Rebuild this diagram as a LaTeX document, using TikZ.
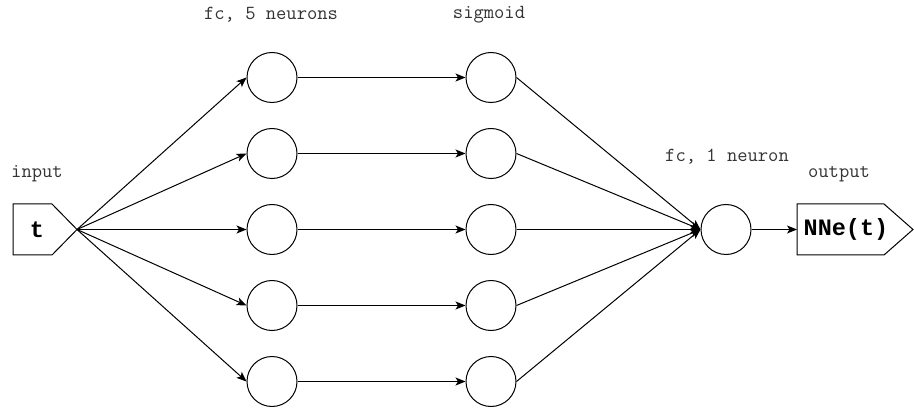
\documentclass[tikz,border=0pt]{standalone}
\usepackage{fontspec}
\newfontfamily\boldmono{Liberation Mono}
\usetikzlibrary{arrows.meta}
\begin{document}
\begin{tikzpicture}[x=1pt,y=-1pt,
  neuron/.style={circle,draw,line width=1pt,minimum size=50pt,inner sep=0pt},
  shp/.style={draw,line width=1pt,line join=miter},
  conn/.style={line width=1pt,-{Stealth[length=10pt,width=8pt,inset=2.5pt]}},
  lbl/.style={font=\ttfamily\fontsize{20}{20}\selectfont,inner sep=0pt,text=black!80},
  big/.style={font=\boldmono\bfseries\fontsize{23.5}{23.5}\selectfont,inner sep=0pt}]
\useasboundingbox (0,0) rectangle (914,409);
% input/output shapes
\draw[shp] (13,204) -- (52,204) -- (77,229.5) -- (52,255) -- (13,255) -- cycle;
\coordinate (inTip) at (77,229.5);
\node[big] (tin) at (37,229.5) {t};
\draw[shp] (797,204) -- (884,204) -- (913,229.5) -- (884,255) -- (797,255) -- cycle;
\coordinate (outIn) at (797,229.5);
\node[big] (tout) at (846,229.5) {NNe(t)};
% neurons
\foreach \i/\y in {1/77.5,2/153.5,3/229.5,4/305.5,5/381.5}{
  \node[neuron] (a\i) at (272,\y) {};
  \node[neuron] (b\i) at (491,\y) {};
}
\node[neuron] (o) at (726,229.5) {};
% connectors
\foreach \i in {1,...,5}{
  \draw[conn] (inTip) -- (a\i.west);
  \draw[conn] (a\i.east) -- (b\i.west);
  \draw[conn] (b\i.east) -- (o.west);
}
\draw[conn] (o.east) -- (outIn);
% labels
\node[lbl] (l1) at (271,15) {fc, 5 neurons};
\node[lbl] (l2) at (489,15) {sigmoid};
\node[lbl] (l3) at (37,174) {input};
\node[lbl] (l4) at (727,157) {fc, 1 neuron};
\node[lbl] (l5) at (839,174) {output};
\end{tikzpicture}
\end{document}
